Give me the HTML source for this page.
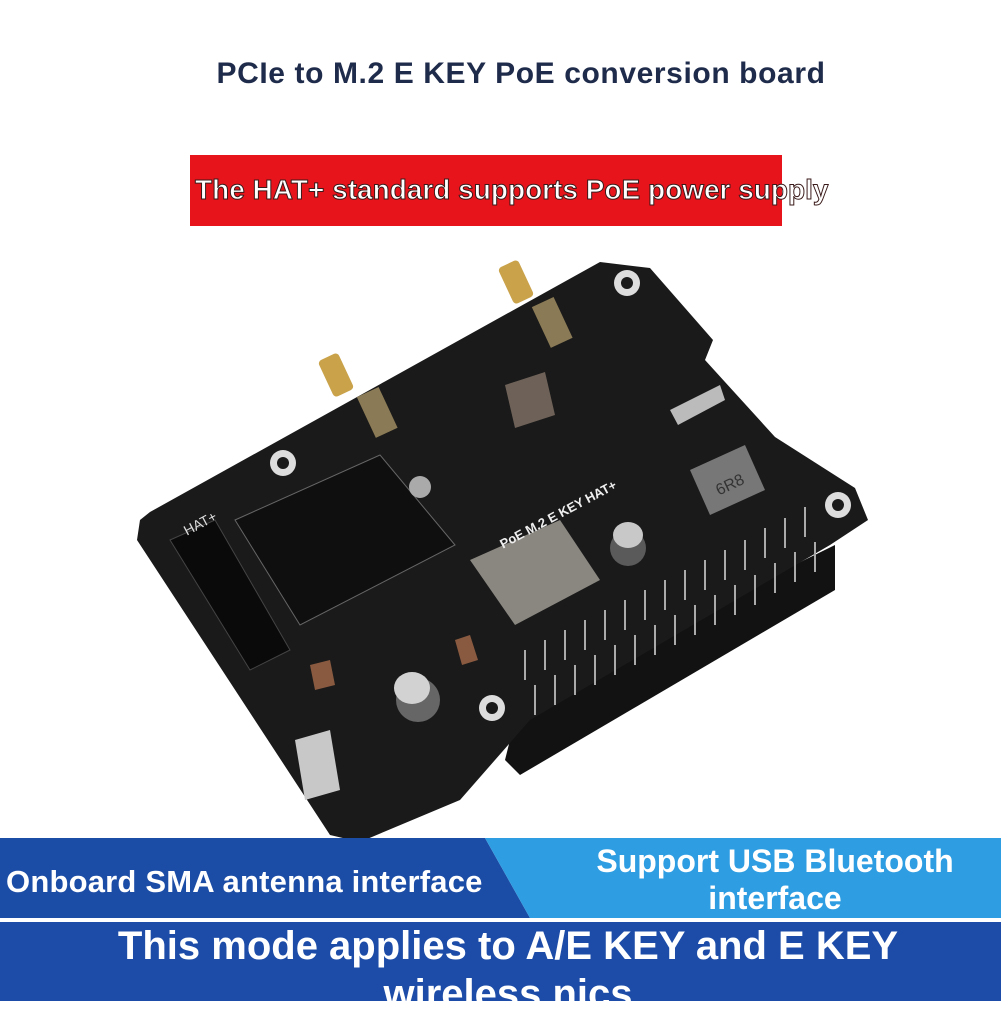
<!DOCTYPE html>
<html><head><meta charset="utf-8"><style>
html,body{margin:0;padding:0;background:#fff}
body{width:1001px;height:1001px;position:relative;overflow:hidden;font-family:"Liberation Sans",sans-serif}
.t{position:absolute;white-space:nowrap;font-weight:bold}
</style></head><body>
<div class="t" style="left:0;width:1042px;top:57px;text-align:center;font-size:30px;letter-spacing:0.6px;color:#1f2b4a">PCIe to M.2 E KEY PoE conversion board</div>
<div style="position:absolute;left:190px;top:155px;width:592px;height:71px;background:#e8141c"></div>
<div class="t" style="left:195px;top:174px;font-size:28px;color:#fff;-webkit-text-stroke:1px #3a1a1a;letter-spacing:0px">The HAT+ standard supports PoE power supply</div>
<svg style="position:absolute;left:0;top:0" width="1001" height="1001">
<polygon points="520,700 835,545 835,590 520,775 505,760" fill="#121212"/>
<polygon points="140,520 150,512 600,262 650,268 713,340 705,360 775,437 855,488 868,520 830,545 530,720 460,800 360,842 330,835 137,540" fill="#1a1a1a"/>
<polygon points="235,520 380,455 455,545 300,625" fill="#0f0f0f" stroke="#666" stroke-width="1"/>
<polygon points="170,540 215,520 290,650 250,670" fill="#0a0a0a" stroke="#444"/>
<g fill="#ddd"><circle cx="283" cy="463" r="13"/><circle cx="627" cy="283" r="13"/><circle cx="838" cy="505" r="13"/><circle cx="492" cy="708" r="13"/></g>
<g fill="#1a1a1a"><circle cx="283" cy="463" r="6"/><circle cx="627" cy="283" r="6"/><circle cx="838" cy="505" r="6"/><circle cx="492" cy="708" r="6"/></g>
<g fill="#c9a24a"><rect x="325" y="355" width="22" height="40" rx="4" transform="rotate(-25 336 375)"/><rect x="505" y="262" width="22" height="40" rx="4" transform="rotate(-25 516 282)"/></g>
<g fill="#8a7a55"><rect x="365" y="390" width="24" height="45" transform="rotate(-25 377 412)"/><rect x="540" y="300" width="24" height="45" transform="rotate(-25 552 322)"/></g>
<circle cx="420" cy="487" r="11" fill="#aaa"/>
<polygon points="470,560 560,520 600,580 515,625" fill="#8a8780"/>
<polygon points="690,470 745,445 765,490 710,515" fill="#777"/>
<text x="715" y="492" font-size="16" fill="#333" transform="rotate(-25 725 485)">6R8</text>
<polygon points="505,385 545,372 555,415 515,428" fill="#6e6258"/>
<polygon points="670,410 720,385 725,400 678,425" fill="#bbb"/>
<circle cx="628" cy="548" r="18" fill="#5a5a5a"/><ellipse cx="628" cy="535" rx="15" ry="13" fill="#c8c8c8"/>
<circle cx="418" cy="700" r="22" fill="#666"/><ellipse cx="412" cy="688" rx="18" ry="16" fill="#d2d2d2"/>
<polygon points="295,740 330,730 340,790 305,800" fill="#c8c8c8"/>
<polygon points="310,665 330,660 335,685 315,690" fill="#8a5a40"/>
<polygon points="455,640 470,635 478,660 462,665" fill="#8a5a40"/>
<g stroke="#aaa" stroke-width="2">
<path d="M525 650v30M545 640v30M565 630v30M585 620v30M605 610v30M625 600v30M645 590v30M665 580v30M685 570v30M705 560v30M725 550v30M745 540v30M765 528v30M785 518v30M805 507v30"/>
<path d="M535 685v30M555 675v30M575 665v30M595 655v30M615 645v30M635 635v30M655 625v30M675 615v30M695 605v30M715 595v30M735 585v30M755 575v30M775 563v30M795 552v30M815 542v30"/>
</g>
<text x="182" y="528" font-size="14" fill="#ddd" transform="rotate(-28 200 522)">HAT+</text>
<text x="482" y="525" font-size="13" font-weight="bold" fill="#eee" transform="rotate(-28 540 495)">PoE M.2 E KEY HAT+</text>
<polygon points="0,838 485,838 530,918 0,918" fill="#1b4ca6"/>
<polygon points="485,838 1001,838 1001,918 530,918" fill="#2f9de2"/>
<rect x="0" y="922" width="1001" height="79" fill="#1c4ca8"/>
</svg>
<div class="t" style="left:6px;top:864px;font-size:31px;letter-spacing:0.2px;color:#fff">Onboard SMA antenna interface</div>
<div class="t" style="left:545px;width:460px;top:843px;text-align:center;font-size:32px;line-height:37px;color:#fff;white-space:normal">Support USB Bluetooth<br>interface</div>
<div class="t" style="left:0;width:1016px;top:922px;text-align:center;font-size:40px;line-height:48px;color:#fff">This mode applies to A/E KEY and E KEY<br>wireless nics</div>
</body></html>
